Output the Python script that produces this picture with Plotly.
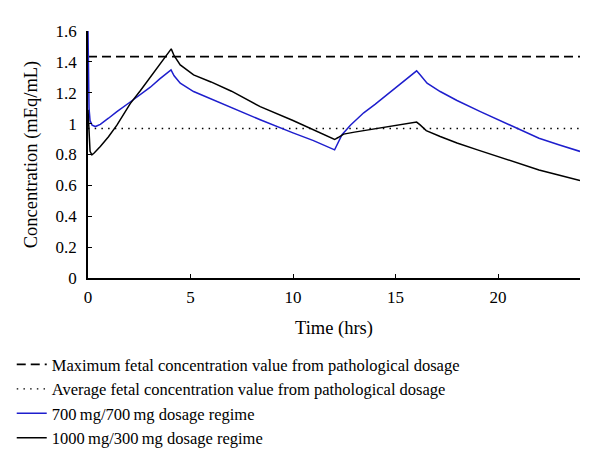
import plotly.graph_objects as go

# Reference levels
max_fetal = 1.434
avg_fetal = 0.968

# 700 mg / 700 mg regime
t_blue = [0, 0.02, 0.05, 0.1, 0.2, 0.36, 0.6, 1.0, 1.41, 2.06, 2.5, 3.04, 3.5, 4.05,
          4.2, 4.5, 5.15, 6, 7, 8.4, 10, 11, 12.03,
          12.2, 12.39, 12.8, 13.45, 14, 15, 16.03,
          16.2, 16.54, 17.18, 18, 19.14, 20, 20.93, 22, 23, 24]
c_blue = [1.60, 1.30, 1.10, 1.02, 0.99, 0.981, 0.995, 1.035, 1.078, 1.14, 1.185, 1.236, 1.29, 1.348,
          1.31, 1.262, 1.208, 1.16, 1.10, 1.025, 0.94, 0.89, 0.83,
          0.875, 0.928, 0.99, 1.07, 1.125, 1.235, 1.342,
          1.316, 1.262, 1.208, 1.15, 1.078, 1.025, 0.966, 0.905, 0.862, 0.82]

# 1000 mg / 300 mg regime
t_black = [0, 0.05, 0.1, 0.19, 0.3, 0.6, 1.0, 1.41, 2.06, 2.56, 3.0, 3.5, 4.06,
           4.2, 4.5, 5.15, 6, 7, 8.4, 10, 11, 12.03,
           12.2, 12.47, 13, 14, 15, 16.03,
           16.2, 16.5, 17.18, 18, 19, 20.93, 22, 23, 24]
c_black = [1.09, 0.90, 0.82, 0.798, 0.81, 0.852, 0.915, 0.99, 1.13, 1.215, 1.295, 1.385, 1.484,
           1.44, 1.38, 1.316, 1.27, 1.21, 1.11, 1.02, 0.96, 0.897,
           0.91, 0.932, 0.945, 0.966, 0.988, 1.01,
           0.992, 0.955, 0.917, 0.875, 0.83, 0.744, 0.70, 0.665, 0.632]

x_ticks = [0, 5, 10, 15, 20]
y_ticks = [0, 0.2, 0.4, 0.6, 0.8, 1.0, 1.2, 1.4, 1.6]
y_tick_labels = ["0", "0.2", "0.4", "0.6", "0.8", "1", "1.2", "1.4", "1.6"]

FONT = "Liberation Serif"
BLUE = "rgb(30,30,205)"

fig = go.Figure()
fig.add_trace(go.Scatter(x=[0, 24], y=[max_fetal, max_fetal], mode="lines",
                         line=dict(color="black", width=1.6, dash="9px,5px"),
                         name="Maximum fetal concentration value from pathological dosage"))
fig.add_trace(go.Scatter(x=[0, 24], y=[avg_fetal, avg_fetal], mode="lines",
                         line=dict(color="black", width=1.4, dash="1.5px,5.2px"),
                         name="Average fetal concentration value from pathological dosage"))
fig.add_trace(go.Scatter(x=t_blue, y=c_blue, mode="lines",
                         line=dict(color=BLUE, width=1.5),
                         name="700\u2009mg/700\u2009mg dosage regime"))
fig.add_trace(go.Scatter(x=t_black, y=c_black, mode="lines",
                         line=dict(color="black", width=1.5),
                         name="1000\u2009mg/300\u2009mg dosage regime"))

fig.update_layout(
    width=592, height=459,
    margin=dict(l=80, r=20, t=23, b=189, autoexpand=False),
    paper_bgcolor="white", plot_bgcolor="white",
    font=dict(family=FONT, size=17, color="black"),
    showlegend=True,
    legend=dict(x=-0.155, y=-0.28, xanchor="left", yanchor="top",
                font=dict(family=FONT, size=16.5, color="black"),
                bgcolor="rgba(0,0,0,0)", tracegroupgap=0),
)
fig.update_xaxes(range=[0, 24], tickmode="array", tickvals=x_ticks, automargin=False,
                 showline=True, linecolor="black", linewidth=1.5,
                 ticks="inside", ticklen=4, tickcolor="black", tickwidth=1,
                 showgrid=False, zeroline=False, ticklabelstandoff=3,
                 tickfont=dict(family=FONT, size=17),
                 title=dict(text="Time (hrs)", font=dict(family=FONT, size=18.5), standoff=15))
fig.update_yaxes(range=[0, 1.6], tickmode="array", tickvals=y_ticks, ticktext=y_tick_labels,
                 automargin=False,
                 showline=True, linecolor="black", linewidth=1.5,
                 ticks="inside", ticklen=4, tickcolor="black", tickwidth=1,
                 showgrid=False, zeroline=False, ticklabelstandoff=6,
                 tickfont=dict(family=FONT, size=17),
                 title=dict(text="Concentration (mEq/mL)", font=dict(family=FONT, size=18.5), standoff=13))

fig.write_html("out.html")
